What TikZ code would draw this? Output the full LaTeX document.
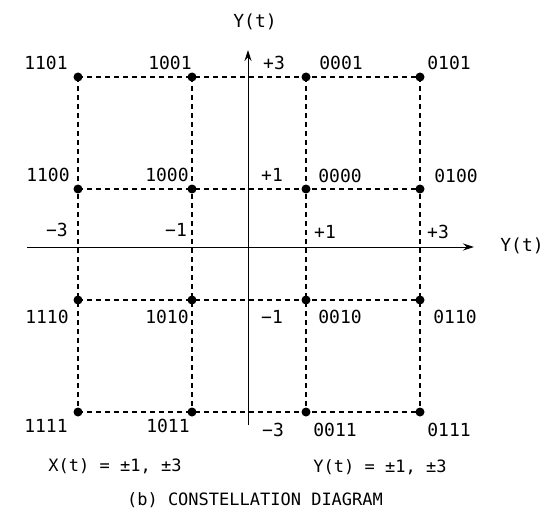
\documentclass[tikz,border=0pt]{standalone}
\usepackage{fontspec}
\setmainfont{DejaVu Sans Mono}
\usetikzlibrary{arrows.meta}
\tikzset{
  dot/.style={circle,fill=black,inner sep=0pt,minimum size=9pt},
  gridline/.style={draw=black,line width=1.1pt,dash pattern=on 5pt off 4pt},
  axisline/.style={draw=black,line width=1pt},
  lbl/.style={inner sep=0pt,font=\fontsize{18}{20}\selectfont},
  captext/.style={inner sep=0pt,font=\fontsize{17}{19}\selectfont}
}
\begin{document}
\begin{tikzpicture}[x=1pt,y=-1pt]
\useasboundingbox (0,0) rectangle (557,519);
% constellation points
\foreach \c/\px in {1/78,2/192,3/306,4/420}{
  \foreach \r/\py in {1/77,2/189,3/300,4/412}{
    \node[dot] (p\r\c) at (\px,\py) {};
  }
}
% axes
\coordinate (ya0) at (248,425);
\coordinate (ya1) at (248,50);
\coordinate (xa0) at (27,247);
\coordinate (xa1) at (474,247);
\draw[axisline,-{Stealth[length=11pt,width=7pt]}] (ya0) -- (ya1);
\draw[axisline,-{Stealth[length=11pt,width=7pt]}] (xa0) -- (xa1);
% grid
\foreach \r in {1,2,3,4}{ \draw[gridline] (p\r1.center) -- (p\r4.center); }
\foreach \c in {1,2,3,4}{ \draw[gridline] (p1\c.center) -- (p4\c.center); }
% labels
\node[lbl] (ty) at (255,22) {Y(t)};
\node[lbl] (l1101) at (46,63) {1101};
\node[lbl] (l1001) at (170,63) {1001};
\node[lbl] (lp3) at (274,63) {+3};
\node[lbl] (l0001) at (341,63) {0001};
\node[lbl] (l0101) at (449,63) {0101};
\node[lbl] (l1100) at (48,175) {1100};
\node[lbl] (l1000) at (167,175) {1000};
\node[lbl] (lp1) at (272,175) {+1};
\node[lbl] (l0000) at (340,176) {0000};
\node[lbl] (l0100) at (456,176) {0100};
\node[lbl] (xm3) at (57,230) {−3};
\node[lbl] (xm1) at (176,230) {−1};
\node[lbl] (xp1) at (325,232) {+1};
\node[lbl] (xp3) at (438,232) {+3};
\node[lbl] (tx) at (522,246) {Y(t)};
\node[lbl] (l1110) at (47,317) {1110};
\node[lbl] (l1010) at (167,317) {1010};
\node[lbl] (lm1) at (272,317) {−1};
\node[lbl] (l0010) at (340,317) {0010};
\node[lbl] (l0110) at (455,317) {0110};
\node[lbl] (l1111) at (46,426) {1111};
\node[lbl] (l1011) at (168,426) {1011};
\node[lbl] (lm3) at (273,430) {−3};
\node[lbl] (l0011) at (335,430) {0011};
\node[lbl] (l0111) at (449,430) {0111};
\node[captext] (eqx) at (115,466) {X(t) = ±1, ±3};
\node[captext] (eqy) at (380,467) {Y(t) = ±1, ±3};
\node[captext] (title) at (255,500) {(b) CONSTELLATION DIAGRAM};
\end{tikzpicture}
\end{document}
